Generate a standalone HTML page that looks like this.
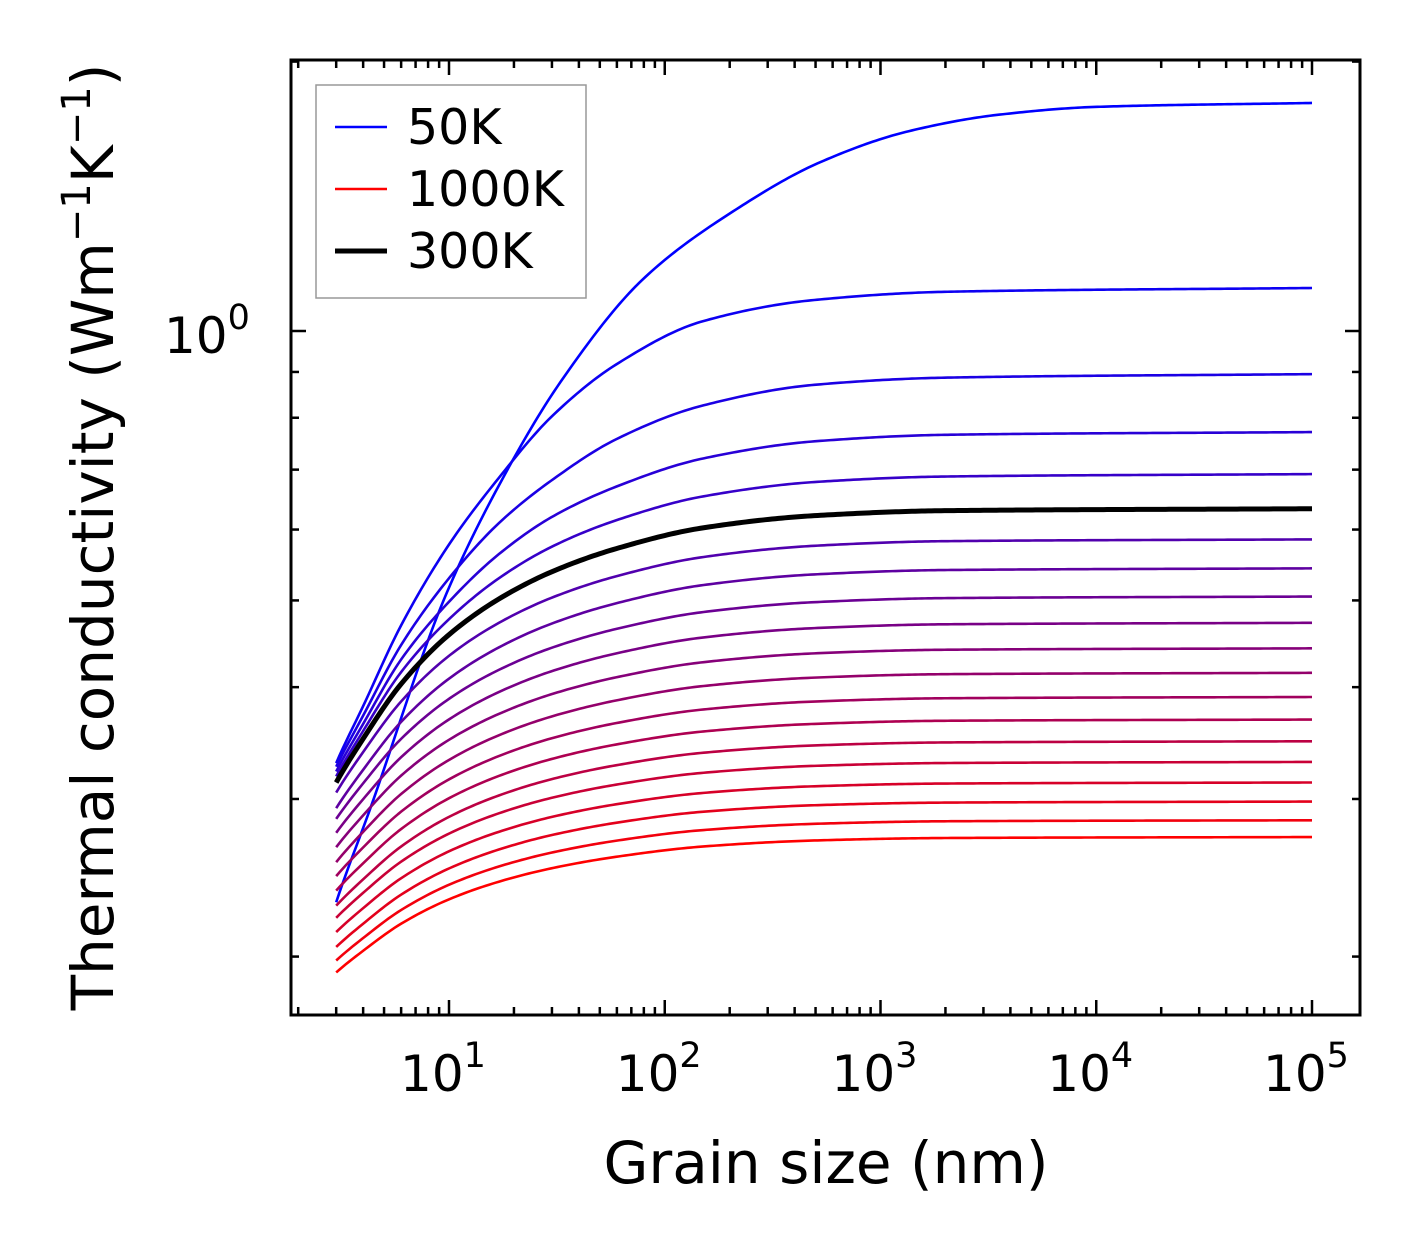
<!DOCTYPE html>
<html><head><meta charset="utf-8"><style>
html,body{margin:0;padding:0;background:#fff;}
svg{display:block;font-family:"DejaVu Sans","Liberation Sans",sans-serif;}
</style></head><body>
<svg id="chart" width="1421" height="1254" viewBox="0 0 1421 1254" xmlns="http://www.w3.org/2000/svg">
<rect x="0" y="0" width="1421" height="1254" fill="#fff"/>
<g id="curves"></g>
<g id="axes"></g>
<text x="826" y="1183" font-size="58" text-anchor="middle">Grain size (nm)</text>
<text transform="translate(113,537) rotate(-90)" font-size="58" text-anchor="middle">Thermal conductivity (Wm<tspan font-size="40" dy="-23">−1</tspan><tspan dy="23">K</tspan><tspan font-size="40" dy="-23">−1</tspan><tspan dy="23">)</tspan></text>
<g>
<rect x="316" y="85" width="270" height="213" fill="#fff" stroke="#999" stroke-width="1.5"/>
<line x1="335" y1="127" x2="387" y2="127" stroke="#0000ff" stroke-width="2.5"/>
<text x="407" y="144" font-size="49">50K</text>
<line x1="335" y1="189" x2="387" y2="189" stroke="#ff0000" stroke-width="2.5"/>
<text x="407" y="206" font-size="49">1000K</text>
<line x1="335" y1="251" x2="387" y2="251" stroke="#000" stroke-width="5"/>
<text x="407" y="268" font-size="49">300K</text>
</g>
</svg>
<script>
// ---- data ----
const temperatures = [50,100,150,200,250,300,350,400,450,500,550,600,650,700,750,800,850,900,950,1000];
const kStart = [0.230,0.329,0.326,0.322,0.318,0.313,0.305,0.293,0.285,0.275,0.265,0.255,0.246,0.237,0.228,0.221,0.213,0.205,0.198,0.192];
const kEnd = [1.798,1.117,0.895,0.771,0.692,0.633,0.585,0.543,0.505,0.472,0.442,0.415,0.390,0.368,0.348,0.330,0.313,0.298,0.284,0.272];
// fraction of (log kEnd - log kStart) reached at each grain size
const fracGrid = [3,4,6,10,17,30,60,150,500,2000,100000];
const frac100 = [0,0.12,0.29,0.46,0.60,0.73,0.84,0.93,0.975,0.992,1];
const frac150 = [0,0.13,0.31,0.48,0.62,0.73,0.835,0.92,0.973,0.991,1];
const frac200 = [0,0.14,0.33,0.50,0.64,0.75,0.84,0.922,0.973,0.992,1];
const frac250 = [0,0.15,0.345,0.52,0.655,0.76,0.848,0.926,0.974,0.992,1];
const fracHigh = [0,0.16,0.36,0.54,0.67,0.77,0.855,0.93,0.975,0.993,1];
const grain50K = [3,4.3,9.6,17.6,33.4,79.4,205,529,1365,3568,10000,100000];
const k50K = [0.230,0.292,0.505,0.682,0.882,1.143,1.358,1.545,1.673,1.745,1.780,1.798];
const xTickLabels = ["1","2","3","4","5"];
const dMin = 3, dMax = 100000;

// ---- axes ----
const L=291,R=1360,T=60,B=1015;
const xDec=215.75, x10=449, yDec=895, y1=331;
function X(d){return x10+(Math.log10(d)-1)*xDec;}
function Y(k){return y1-Math.log10(k)*yDec;}
const NS="http://www.w3.org/2000/svg";
const curves=document.getElementById('curves'), axes=document.getElementById('axes');

function pchip(xs,ys,x){
  const n=xs.length, lx=xs.map(v=>Math.log10(v)), t=Math.log10(x);
  const h=[],dl=[];
  for(let i=0;i<n-1;i++){h.push(lx[i+1]-lx[i]);dl.push((ys[i+1]-ys[i])/h[i]);}
  const m=new Array(n);
  m[0]=dl[0]*1.1;m[n-1]=dl[n-2];
  for(let i=1;i<n-1;i++){
    if(dl[i-1]*dl[i]<=0)m[i]=0;
    else{const w1=2*h[i]+h[i-1],w2=h[i]+2*h[i-1];m[i]=(w1+w2)/(w1/dl[i-1]+w2/dl[i]);}
  }
  if(t<=lx[0])return ys[0]+m[0]*(t-lx[0]);
  if(t>=lx[n-1])return ys[n-1];
  let i=0;while(i<n-2&&t>lx[i+1])i++;
  const s=(t-lx[i])/h[i],s2=s*s,s3=s2*s;
  return (2*s3-3*s2+1)*ys[i]+(s3-2*s2+s)*h[i]*m[i]+(-2*s3+3*s2)*ys[i+1]+(s3-s2)*h[i]*m[i+1];
}
const N=temperatures.length;
const sampleD=[];
for(let i=0;i<=300;i++){sampleD.push(Math.pow(10,Math.log10(dMin)+(Math.log10(dMax)-Math.log10(dMin))*i/300));}
const logK50=k50K.map(v=>Math.log10(v));
function fracFor(T){
  if(T===100)return frac100;
  if(T===150)return frac150;
  if(T===200)return frac200;
  if(T===250)return frac250;
  return fracHigh;
}
function curvePoints(idx){
  if(idx===0){
    return sampleD.map(d=>[X(d),Y(Math.pow(10,pchip(grain50K,logK50,d)))]);
  }
  const fr=fracFor(temperatures[idx]);
  const la=Math.log10(kStart[idx]), lb=Math.log10(kEnd[idx]);
  return sampleD.map(d=>{
    const f=pchip(fracGrid,fr,d);
    return [X(d),Y(Math.pow(10,la+(lb-la)*f))];
  });
}
function polyPath(pts){return 'M'+pts.map(p=>p[0].toFixed(2)+','+p[1].toFixed(2)).join('L');}
const blackIdx=temperatures.indexOf(300);
for(let i=0;i<N;i++){
  const t=i/(N-1);
  const p=document.createElementNS(NS,'path');
  p.setAttribute('d',polyPath(curvePoints(i)));
  p.setAttribute('fill','none');
  p.setAttribute('stroke','rgb('+Math.round(255*t)+',0,'+Math.round(255*(1-t))+')');
  p.setAttribute('stroke-width','2.6');
  p.setAttribute('stroke-linejoin','round');
  
  
  curves.appendChild(p);
}
{
  const p=document.createElementNS(NS,'path');
  p.setAttribute('d',polyPath(curvePoints(blackIdx)));
  p.setAttribute('fill','none');
  p.setAttribute('stroke','#000');
  p.setAttribute('stroke-width','5');
  p.setAttribute('stroke-linejoin','round');
  
  
  curves.appendChild(p);
}
function line(x1,y1_,x2,y2,w,name){
  const l=document.createElementNS(NS,'line');
  l.setAttribute('x1',x1);l.setAttribute('y1',y1_);l.setAttribute('x2',x2);l.setAttribute('y2',y2);
  l.setAttribute('stroke','#000');l.setAttribute('stroke-width',w);
  
  
  axes.appendChild(l);
}
for(let e=0;e<=5;e++){
  for(let m=1;m<10;m++){
    const d=m*Math.pow(10,e);
    const x=X(d);
    if(x<L+1||x>R-1)continue;
    const len=(m===1)?15:8;
    line(x,B,x,B-len,2.5,m===1?'x-major-tick':'x-minor-tick');
    line(x,T,x,T+len,2.5,m===1?'x-major-tick-top':'x-minor-tick-top');
  }
}
const yMinor=[0.2,0.3,0.4,0.5,0.6,0.7,0.8,0.9,2];
yMinor.forEach(k=>{const y=Y(k);if(y<T+1||y>B-1)return;line(L,y,L+8,y,2.5,'y-minor-tick');line(R,y,R-8,y,2.5,'y-minor-tick-right');});
line(L,Y(1),L+15,Y(1),2.5,'y-major-tick');line(R,Y(1),R-15,Y(1),2.5,'y-major-tick-right');
const frm=document.createElementNS(NS,'rect');
frm.setAttribute('x',L);frm.setAttribute('y',T);frm.setAttribute('width',R-L);frm.setAttribute('height',B-T);
frm.setAttribute('fill','none');frm.setAttribute('stroke','#000');frm.setAttribute('stroke-width','3');


axes.appendChild(frm);
xTickLabels.forEach((lab,i)=>{
  const t=document.createElementNS(NS,'text');
  t.setAttribute('x',X(Math.pow(10,i+1))-6);t.setAttribute('y',1091);
  t.setAttribute('font-size','50');t.setAttribute('text-anchor','middle');
  t.innerHTML='10<tspan font-size="35" dy="-24">'+lab+'</tspan>';
  
  
  axes.appendChild(t);
});
const yl=document.createElementNS(NS,'text');
yl.setAttribute('x',164);yl.setAttribute('y',353);yl.setAttribute('font-size','50');
yl.innerHTML='10<tspan font-size="35" dy="-24">0</tspan>';


axes.appendChild(yl);
</script>
</body></html>
